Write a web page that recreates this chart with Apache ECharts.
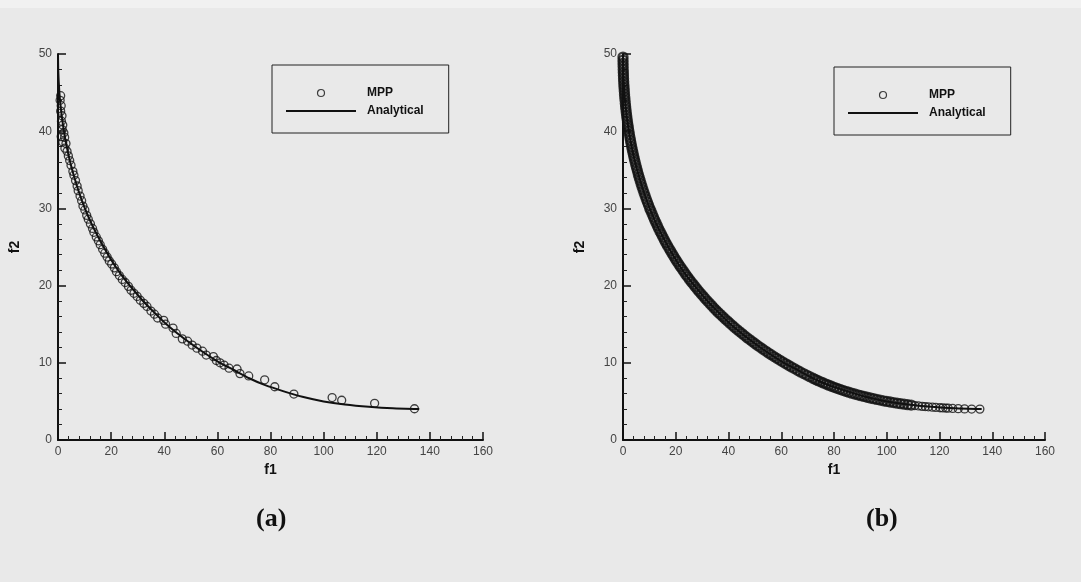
<!DOCTYPE html>
<html>
<head>
<meta charset="utf-8">
<script src="https://cdn.jsdelivr.net/npm/echarts@6/dist/echarts.min.js"></script>
<style>
html,body{margin:0;padding:0;background:#e9e9e9;}
#c{width:1081px;height:582px;}
</style>
</head>
<body>
<div id="c"></div>
<script>
// ---- data ----
const xTicks = [0, 20, 40, 60, 80, 100, 120, 140, 160];
const yTicks = [0, 10, 20, 30, 40, 50];
const panelLabels = ['(a)', '(b)'];
const seriesNames = ['MPP', 'Analytical'];

// Analytical Pareto front (same in both panels)
const analytical = [[0,50],[0.1,47.8],[0.5,45.1],[1,43.2],[2,40.5],[3,38.5],[4.5,36.1],[6,34.2],[8,32],[10,30.1],[12.5,28.1],[15,26.4],[18,24.5],[21,22.8],[24.5,21.1],[28,19.6],[32,18],[36,16.6],[40.5,15.1],[45,13.8],[50,12.5],[55,11.3],[60.5,10.1],[66,9.1],[72,8],[78,7.1],[85,6.3],[92,5.6],[100,5],[108,4.6],[117,4.3],[126,4.1],[136,4]];

// Panel (a) MPP points
const mppA = [[1.0,44.6],[0.8,44.0],[1.2,43.3],[1.0,42.6],[1.5,42.0],[1.3,41.3],[1.8,40.8],[1.6,40.2],[2.2,39.8],[1.2,39.3],[2.5,39.2],[1.8,38.6],[3.0,38.4],[2.6,37.8],[3.4,37.4],[3.9,36.8],[4.4,36.2],[4.9,35.6],[5.6,34.8],[6.0,34.3],[6.6,33.6],[7.2,32.9],[7.6,32.3],[8.3,31.6],[8.9,31.0],[9.4,30.3],[10.1,29.8],[10.8,29.1],[11.4,28.6],[12.2,28.0],[13.0,27.4],[13.5,26.9],[14.4,26.3],[15.2,25.8],[15.9,25.3],[16.8,24.7],[17.6,24.2],[18.5,23.7],[19.3,23.2],[20.2,22.8],[21.2,22.3],[22.0,21.8],[23.1,21.3],[24.2,20.8],[25.3,20.4],[26.5,19.9],[27.5,19.4],[28.6,19.0],[29.8,18.6],[31.0,18.1],[32.3,17.7],[33.5,17.3],[35.0,16.7],[36.3,16.3],[37.5,15.8],[39.8,15.5],[40.5,15.0],[43.3,14.5],[44.5,13.8],[46.8,13.1],[48.8,12.8],[50.5,12.3],[52.3,11.9],[54.4,11.5],[55.8,11.0],[58.5,10.8],[59.6,10.3],[61.0,10.0],[62.5,9.7],[64.4,9.3],[67.4,9.2],[68.5,8.6],[71.8,8.3],[77.8,7.8],[81.6,6.9],[88.8,5.95],[103.2,5.5],[106.8,5.15],[119.2,4.75],[134.2,4.05]];

// Panel (b) MPP points: dense band
const mppB = [[0.0,49.6],[0.01,49.2],[0.03,48.8],[0.05,48.4],[0.08,48.0],[0.12,47.6],[0.16,47.2],[0.21,46.8],[0.27,46.4],[0.33,46.0],[0.41,45.6],[0.49,45.2],[0.57,44.8],[0.67,44.4],[0.77,44.0],[0.88,43.6],[0.99,43.2],[1.12,42.8],[1.25,42.4],[1.39,42.0],[1.54,41.6],[1.70,41.2],[1.87,40.8],[2.05,40.4],[2.23,40.0],[2.42,39.6],[2.63,39.2],[2.84,38.8],[3.06,38.4],[3.29,38.0],[3.53,37.6],[3.78,37.2],[4.04,36.8],[4.31,36.4],[4.59,36.0],[4.88,35.6],[5.18,35.2],[5.49,34.8],[5.82,34.4],[6.15,34.0],[6.50,33.6],[6.86,33.2],[7.22,32.8],[7.61,32.4],[8.00,32.0],[8.41,31.6],[8.83,31.2],[9.26,30.8],[9.70,30.4],[10.16,30.0],
[10.58,29.65],[11.05,29.26],[11.52,28.88],[12.01,28.50],[12.5,28.13],[13.01,27.75],[13.52,27.38],[14.05,27.01],[14.58,26.65],[15.13,26.28],[15.68,25.92],[16.25,25.56],[16.82,25.21],[17.41,24.85],[18.0,24.5],[18.61,24.15],[19.22,23.81],[19.85,23.46],[20.48,23.12],[21.13,22.78],[21.78,22.45],[22.45,22.11],[23.12,21.78],[23.81,21.45],[24.5,21.13],[25.21,20.8],[25.92,20.48],[26.65,20.16],[27.38,19.85],[28.13,19.53],[28.88,19.22],[29.65,18.91],[30.42,18.61],[31.21,18.3],[32.0,18.0],[32.81,17.7],[33.62,17.41],[34.45,17.11],[35.28,16.82],[36.13,16.53],[36.98,16.25],[37.85,15.96],[38.72,15.68],[39.61,15.4],[40.5,15.13],[41.41,14.85],[42.32,14.58],[43.25,14.31],[44.18,14.05],[45.13,13.78],[46.08,13.52],[47.05,13.26],[48.02,13.01],[49.01,12.75],[50.0,12.5],[51.01,12.25],[52.02,12.01],[53.05,11.76],[54.08,11.52],[55.13,11.28],[56.18,11.05],[57.25,10.81],[58.32,10.58],[59.41,10.35],[60.5,10.13],[61.61,9.9],[62.72,9.68],[63.85,9.46],[64.98,9.25],[66.13,9.03],[67.28,8.82],[68.45,8.61],[69.62,8.41],[70.81,8.2],[72.0,8.0],
[72.97,7.84],[73.95,7.69],[74.94,7.53],[75.94,7.39],[76.96,7.24],[77.99,7.1],[79.03,6.96],[80.09,6.82],[81.16,6.69],[82.24,6.56],[83.33,6.43],[84.44,6.31],[85.56,6.19],[86.69,6.07],[87.84,5.96],[89.0,5.85],[90.17,5.74],[91.35,5.64],[92.55,5.54],[93.76,5.44],[94.98,5.35],[96.22,5.25],[97.47,5.17],[98.73,5.08],[100.0,5.0],[101.29,4.92],[102.59,4.85],[103.9,4.77],[105.22,4.71],[106.56,4.64],[107.91,4.58],[109.27,4.52]];
// Panel (b) MPP points: sparser tail
const mppBTail = [[110.65,4.46],[112.04,4.41],[113.44,4.36],[114.6,4.33],[115.8,4.3],[117.3,4.25],[118.6,4.22],[120.2,4.18],[121.3,4.16],[122.4,4.14],[123.3,4.12],[125.0,4.09],[127.1,4.06],[129.5,4.03],[132.2,4.01],[135.3,4.0]];

// ---- chart ----
const FONT = 'Arial, "Liberation Sans", Helvetica, sans-serif';
const SERIF = '"Liberation Serif", "Times New Roman", serif';
const chart = echarts.init(document.getElementById('c'), null, {renderer: 'canvas'});

function axisCommon() {
  return {
    nameLocation: 'middle',
    nameTextStyle: {fontFamily: FONT, fontWeight: 'bold', fontSize: 14, color: '#111'},
    axisLine: {show: true, onZero: false, lineStyle: {color: '#111', width: 2}},
    axisTick: {show: true, inside: true, length: 8, lineStyle: {color: '#111', width: 1.5}},
    minorTick: {show: true, splitNumber: 5, length: 4, lineStyle: {color: '#222', width: 1}},
    splitLine: {show: false}, minorSplitLine: {show: false},
    axisLabel: {fontFamily: FONT, fontSize: 12, color: '#444', margin: 6}
  };
}
function xAxis(gi) {
  return Object.assign(axisCommon(), {
    type: 'value', gridIndex: gi, min: xTicks[0], max: xTicks[xTicks.length - 1],
    interval: xTicks[1] - xTicks[0], name: 'f1', nameGap: 17
  });
}
function yAxis(gi) {
  return Object.assign(axisCommon(), {
    type: 'value', gridIndex: gi, min: yTicks[0], max: yTicks[yTicks.length - 1],
    interval: yTicks[1] - yTicks[0], name: 'f2', nameGap: 36, nameRotate: 90
  });
}
function legend(left, top) {
  return {
    orient: 'vertical', left: left, top: top,
    data: [
      {name: seriesNames[0], icon: 'circle', itemStyle: {color: 'transparent', borderColor: '#111', borderWidth: 1.2}},
      {name: seriesNames[1], itemStyle: {color: 'transparent', borderColor: 'transparent', borderWidth: 0, opacity: 0}, lineStyle: {color: '#111', width: 2}}
    ],
    itemWidth: 70, itemHeight: 7, itemGap: 6,
    padding: [22, 25, 16, 13],
    borderColor: '#222', borderWidth: 1, backgroundColor: 'transparent',
    selectedMode: false,
    textStyle: {fontFamily: FONT, fontWeight: 'bold', fontSize: 12, color: '#111', padding: [0, 0, 0, 6]}
  };
}
const thinRing = {color: 'transparent', borderColor: '#111', borderWidth: 1.3};
const boldRing = {color: 'transparent', borderColor: '#111', borderWidth: 2.3};
const lineStyle = {color: '#111', width: 2};

chart.setOption({
  backgroundColor: '#e9e9e9',
  animation: false,
  grid: [
    {left: 58, top: 54, width: 425, height: 386},
    {left: 623, top: 54, width: 422, height: 386}
  ],
  xAxis: [xAxis(0), xAxis(1)],
  yAxis: [yAxis(0), yAxis(1)],
  legend: [legend(272, 65), legend(834, 67)],
  graphic: [
    {type: 'rect', left: 0, top: 0, shape: {width: 1081, height: 8}, style: {fill: '#f1f1f1'}, silent: true, z: -1},
    {type: 'text', left: 256, top: 506, style: {text: panelLabels[0], fontFamily: SERIF, fontWeight: 'bold', fontSize: 26, fill: '#111'}},
    {type: 'text', left: 866, top: 506, style: {text: panelLabels[1], fontFamily: SERIF, fontWeight: 'bold', fontSize: 26, fill: '#111'}}
  ],
  series: [
    {name: seriesNames[1], type: 'line', xAxisIndex: 0, yAxisIndex: 0, data: analytical, symbol: 'none', smooth: 0.2, lineStyle: lineStyle, itemStyle: {color: '#111'}, z: 2},
    {name: seriesNames[0], type: 'scatter', xAxisIndex: 0, yAxisIndex: 0, data: mppA, symbol: 'circle', symbolSize: 8, itemStyle: thinRing, z: 3},
    {name: seriesNames[1], type: 'line', xAxisIndex: 1, yAxisIndex: 1, data: analytical, symbol: 'none', smooth: 0.2, lineStyle: lineStyle, itemStyle: {color: '#111'}, z: 2},
    {name: seriesNames[0], type: 'scatter', xAxisIndex: 1, yAxisIndex: 1, data: mppB, symbol: 'circle', symbolSize: 9, itemStyle: boldRing, z: 3},
    {name: seriesNames[0], type: 'scatter', xAxisIndex: 1, yAxisIndex: 1, data: mppBTail, symbol: 'circle', symbolSize: 8, itemStyle: thinRing, z: 3}
  ]
});
</script>
</body>
</html>
